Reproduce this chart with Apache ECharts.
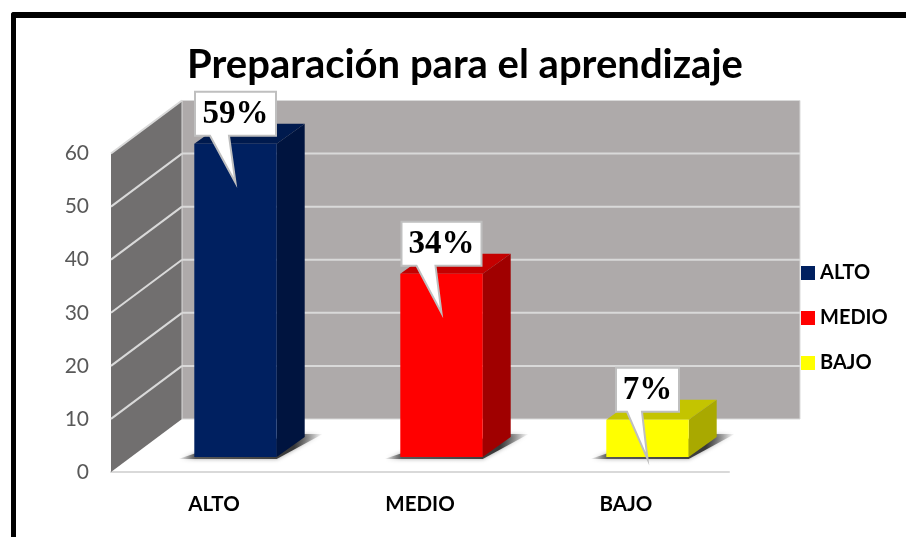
<!DOCTYPE html>
<html>
<head>
<meta charset="utf-8">
<title>Preparación para el aprendizaje</title>
<script src="https://cdn.jsdelivr.net/npm/echarts@6/dist/echarts.min.js"></script>
<style>
html, body { margin: 0; padding: 0; background: #fff; }
#chart { width: 906px; height: 537px; }
/* marco negro: solo arriba e izquierda, lo demas queda fuera de la captura */
#marco { position: absolute; left: 11px; top: 12px; right: 0; bottom: 0; border-left: 5px solid #000; border-top: 6px solid #000; border-top-left-radius: 3px; }
</style>
</head>
<body>
<div id="chart"></div>
<div id="marco"></div>
<script>
var categories = ['ALTO', 'MEDIO', 'BAJO'];
var barValues = [59, 34.5, 7];
var calloutLabels = ['59%', '34%', '7%'];
var yTicks = [0, 10, 20, 30, 40, 50, 60];

var frontColors = ['#002060', '#ff0000', '#ffff00'];
var sideColors = ['#00143f', '#a00000', '#a9a900'];
var topColors = ['#001a4e', '#c40000', '#c4c400'];
var calloutWidths = [81, 80, 63];

var depthX = 71, depthY = -53;   // profundidad de las paredes
var barShiftX = 21.5, barShiftY = -15;  // la barra no arranca en el borde del suelo
var barDepthX = 28, barDepthY = -20;

function poly(points, fill, extra) {
    var style = { fill: fill };
    for (var k in extra) style[k] = extra[k];
    return { type: 'polygon', shape: { points: points }, style: style, silent: true };
}

function renderWalls(params, api) {
    var cs = params.coordSys;
    var x0 = cs.x, x1 = cs.x + cs.width;
    var yBase = api.coord([0, 0])[1], yTop = api.coord([0, 60])[1];
    var kids = [
        poly([[x0, yTop], [x0 + depthX, yTop + depthY], [x0 + depthX, yBase + depthY], [x0, yBase]], '#716f6f'),
        poly([[x0 + depthX, yTop + depthY], [x1 + depthX, yTop + depthY], [x1 + depthX, yBase + depthY], [x0 + depthX, yBase + depthY]], '#aeaaaa', { stroke: '#d9d9d9', lineWidth: 1 })
    ];
    yTicks.forEach(function (t) {
        var y = api.coord([0, t])[1];
        if (t === 0) return;
        kids.push({ type: 'polyline', silent: true, shape: { points: [[x0, y], [x0 + depthX, y + depthY]] }, style: { stroke: '#d9d9d9', lineWidth: 2, fill: null } });
        if (t < 60) {
            kids.push({ type: 'line', silent: true, shape: { x1: x0 + depthX, y1: y + depthY, x2: x1 + depthX, y2: y + depthY }, style: { stroke: '#d9d9d9', lineWidth: 2 } });
        }
    });
    return { type: 'group', children: kids };
}

function renderBar(params, api) {
    var i = api.value(0);
    var base = api.coord([i, 0]);
    var top = api.coord([i, api.value(1)]);
    var w = api.size([1, 0])[0] * 0.4;
    var l = base[0] + barShiftX - w / 2, r = l + w;
    var yb = base[1] + barShiftY, yt = top[1] + barShiftY;
    var shadowFill = new echarts.graphic.LinearGradient(0, 0, 1, 0, [
        { offset: 0, color: 'rgba(70,70,70,0)' },
        { offset: 0.12, color: 'rgba(70,70,70,0.85)' },
        { offset: 0.8, color: 'rgba(50,50,50,0.95)' },
        { offset: 1, color: 'rgba(70,70,70,0)' }
    ]);
    return {
        type: 'group',
        children: [
            // sombra sobre el suelo
            poly([[l - 16, yb + 2], [r, yb + 2], [r + barDepthX + 18, yb + barDepthY - 3], [r + barDepthX, yb + barDepthY - 3], [l + 8, yb - 6]], shadowFill, { shadowBlur: 4, shadowColor: 'rgba(60,60,60,0.5)' }),
            poly([[l, yt], [r, yt], [r + barDepthX, yt + barDepthY], [l + barDepthX, yt + barDepthY]], topColors[i]),
            poly([[r, yt], [r + barDepthX, yt + barDepthY], [r + barDepthX, yb + barDepthY], [r, yb]], sideColors[i]),
            { type: 'rect', silent: true, shape: { x: l, y: yt, width: w, height: yb - yt }, style: { fill: frontColors[i] } }
        ]
    };
}

function renderCallout(params, api) {
    var i = api.value(0);
    var top = api.coord([i, api.value(1)]);
    var cx = top[0] + barShiftX;
    var yt = top[1] + barShiftY;
    var hw = calloutWidths[i] / 2;
    var b = yt - 8, t = b - 44;
    var a = -hw + (i === 2 ? 11 : 15), c = a + (i === 2 ? 15 : 19);
    return {
        type: 'group',
        children: [
            poly([[cx - hw, t], [cx + hw, t], [cx + hw, b], [cx + c, b], [cx, yt + 39], [cx + a, b], [cx - hw, b]], '#fff', { stroke: '#bfbfbf', lineWidth: 2, lineJoin: 'miter' }),
            {
                type: 'text', silent: true,
                style: {
                    x: cx, y: (t + b) / 2 + 1, text: calloutLabels[i], align: 'center', verticalAlign: 'middle',
                    fill: '#000', font: 'bold 33px "Liberation Serif"'
                }
            }
        ]
    };
}

var chart = echarts.init(document.getElementById('chart'));

var series = [{
    name: 'paredes', type: 'custom', renderItem: renderWalls, clip: false, silent: true, z: 1,
    data: [[0, 0]]
}];
categories.forEach(function (name, i) {
    series.push({
        name: name, type: 'custom', renderItem: renderBar, clip: false, silent: true, z: 2,
        itemStyle: { color: frontColors[i] },
        encode: { x: 0, y: 1 },
        data: [[i, barValues[i]]]
    });
});
series.push({
    name: 'globos', type: 'custom', renderItem: renderCallout, clip: false, silent: true, z: 3,
    encode: { x: 0, y: 1 },
    data: barValues.map(function (v, i) { return [i, v]; })
});

chart.setOption({
    animation: false,
    backgroundColor: '#fff',
    title: {
        text: 'Preparación para el aprendizaje',
        left: 460, top: 40, textAlign: 'center',
        textStyle: { fontFamily: 'Lato', fontWeight: 'bold', fontSize: 40, color: '#000' }
    },
    legend: {
        data: categories, orient: 'vertical', left: 796, top: 258,
        itemWidth: 14, itemHeight: 14, itemGap: 25, icon: 'rect', selectedMode: false,
        textStyle: { fontFamily: 'Lato', fontWeight: 'bold', fontSize: 20, color: '#000', padding: [0, 0, 0, 0] }
    },
    grid: { left: 111, right: 177, top: 153.5, bottom: 65 },
    xAxis: {
        type: 'category', data: categories,
        axisTick: { show: false },
        axisLine: { lineStyle: { color: '#d9d9d9', width: 2 } },
        axisLabel: { margin: 22, fontFamily: 'Lato', fontWeight: 'bold', fontSize: 20.5, color: '#000' }
    },
    yAxis: {
        type: 'value', min: 0, max: 60, interval: 10,
        splitLine: { show: false },
        axisLine: { show: false },
        axisTick: { show: false },
        axisLabel: { margin: 22, fontFamily: 'Lato', fontSize: 21, color: '#595959', padding: [2, 0, 0, 0] }
    },
    series: series
});
</script>
</body>
</html>
